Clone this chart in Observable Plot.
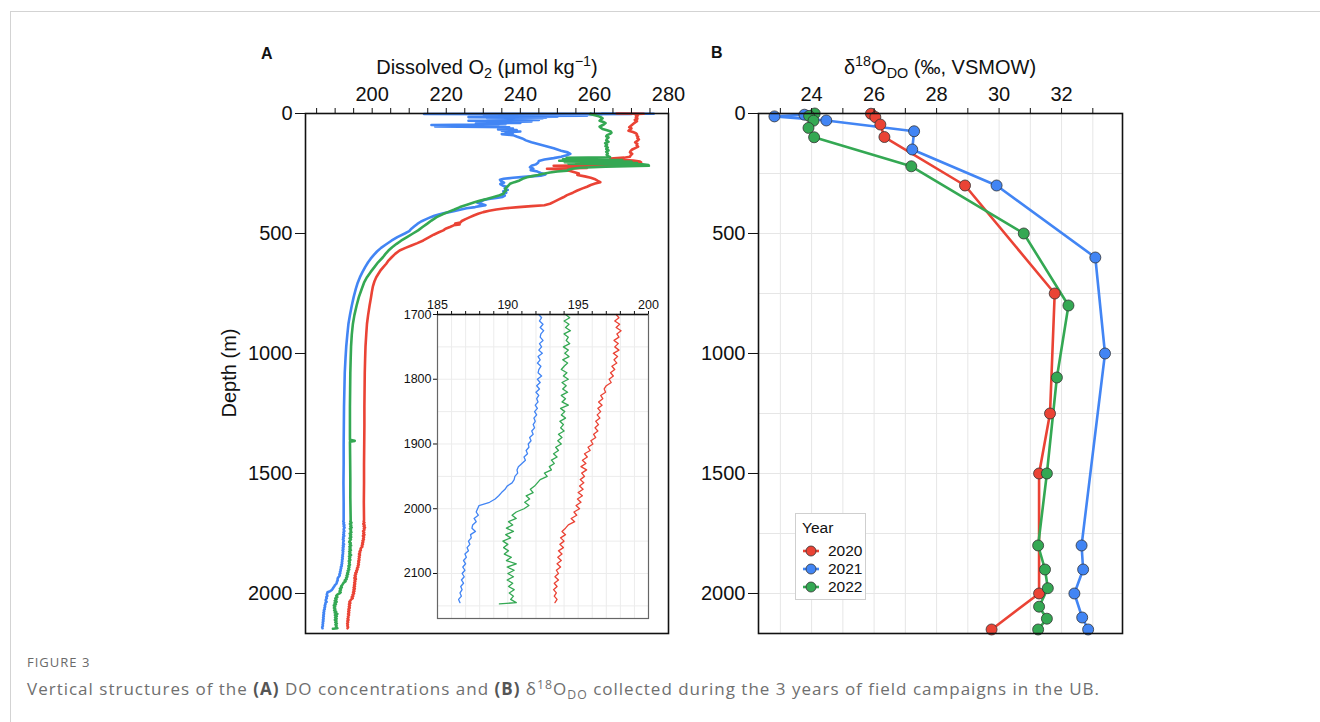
<!DOCTYPE html>
<html><head><meta charset="utf-8">
<script src="https://cdn.jsdelivr.net/npm/d3@7"></script>
<script src="https://cdn.jsdelivr.net/npm/@observablehq/plot@0.6"></script>
<style>
body{margin:0;background:#fff;font-family:"Liberation Sans",Arial,sans-serif;}
#page{position:relative;width:1320px;height:722px;overflow:hidden;background:#fff;}
#border{position:absolute;left:10px;top:11px;width:1400px;height:800px;border-left:1px solid #d3d3d3;border-top:1px solid #d3d3d3;}
.abs{position:absolute;}
.ttl{position:absolute;font-size:20px;line-height:1;white-space:nowrap;transform:translateX(-50%);color:#111;}
.ttl sub{font-size:0.72em;vertical-align:-0.3em;line-height:0;}
.ttl sup{font-size:0.72em;vertical-align:0.55em;line-height:0;}
.lab{position:absolute;font-weight:bold;font-size:16px;color:#111;line-height:1;}
#legend{position:absolute;left:795px;top:513px;width:69px;height:85px;border:1px solid #cfcfcf;background:#fff;font-size:15.5px;color:#111;}
#legend .row{position:absolute;left:6px;height:18px;display:flex;align-items:center;}
#legend .row span{margin-left:8px;}
#fig{position:absolute;left:27px;top:653px;font-family:"Open Sans",sans-serif;font-size:13px;color:#6a6a6a;letter-spacing:1px;}
#cap{position:absolute;left:27px;top:677px;font-family:"Open Sans",sans-serif;font-size:17px;letter-spacing:1px;color:#6f6f6f;white-space:nowrap;}
#cap b{color:#555;}
#cap sub{font-size:0.72em;vertical-align:-0.3em;line-height:0;}
#cap sup{font-size:0.72em;vertical-align:0.5em;line-height:0;}
</style></head>
<body>
<div id="page">
  <div id="border"></div>
  <div class="lab" style="left:261px;top:46px;">A</div>
  <div class="ttl" style="left:487px;top:57px;">Dissolved O<sub>2</sub> (μmol kg<sup>−1</sup>)</div>
  <div class="lab" style="left:711px;top:45px;">B</div>
  <div class="ttl" style="left:940px;top:57px;">δ<sup>18</sup>O<sub>DO</sub> (‰, VSMOW)</div>
  <div class="abs" style="left:229px;top:373px;font-size:20px;white-space:nowrap;transform:translate(-50%,-50%) rotate(-90deg);color:#111;">Depth (m)</div>
  <div id="panelA" class="abs" style="left:200px;top:80px;"></div>
  <div id="inset" class="abs" style="left:395px;top:290px;"></div>
  <div id="panelB" class="abs" style="left:655px;top:80px;"></div>
  <div id="legend"></div>
  <div id="fig">FIGURE 3</div>
  <div id="cap">Vertical structures of the <b>(A)</b> DO concentrations and <b>(B)</b> δ<sup>18</sup>O<sub>DO</sub> collected during the 3 years of field campaigns in the UB.</div>
</div>
<script>
// ---------- categories ----------
const years = ["2020", "2021", "2022"];
const yearColors = ["#EA4335", "#4285F4", "#34A853"];
const drawOrder = ["2021", "2020", "2022"];

// ---------- ticks ----------
const depthTicks = [0, 500, 1000, 1500, 2000];
const o2Ticks = [185,190,195,200,205,210,215,220,225,230,235,240,245,250,255,260,265,270,275,280];
const o2Labels = [200, 220, 240, 260, 280];
const insetXTicks = [185,186,187,188,189,190,191,192,193,194,195,196,197,198,199,200];
const insetXLabels = [185, 190, 195, 200];
const insetYTicks = [1700, 1800, 1900, 2000, 2100];
const insetYGrid = [1750,1800,1850,1900,1950,2000,2050,2100,2150];
const d18Ticks = [23,24,25,26,27,28,29,30,31,32,33];
const d18Labels = [24, 26, 28, 30, 32];
const d18GridY = [250, 500, 750, 1000, 1250, 1500, 1750, 2000];

// ---------- Panel A: dissolved O2 profiles [depth m, O2 umol/kg] ----------
const o2_2021_upper = [[0,262],[1,276],[2,214],[3,270],[4,230],[5,262],[7,248],[9,258],[11,232],[13,250],[15,226],[17,247],[19,231],[21,246],[24,233],[27,245],[30,226],[33,243],[36,232],[39,240],[42,228],[45,236],[48,216],[51,234],[54,217],[57,237],[60,235],[63,238],[66,234],[69,239],[72,235],[75,240],[78,236],[82,238],[86,235],[90,238],[96,239],[104,240.5],[112,241.5],[120,243],[128,245],[136,247],[145,249],[155,251],[162,252.8],[168,253.5],[174,252.5],[180,251],[186,249],[192,246.5],[198,245],[205,244.8],[212,244.2],[218,243],[224,242.6],[230,243.5],[236,242.8],[242,244.6],[248,245.5],[254,246.8],[259,245.5],[264,241],[268,238],[272,235.5],[276,234.5],[282,234.8],[288,235.6],[294,234.6],[300,235.2],[306,236.4],[312,235.8],[318,236.6],[324,235.4],[330,236.2],[336,235],[342,235.8],[348,235.2],[352,233.5],[356,231.5],[360,230.2],[366,229.5],[372,228.4],[378,229.8],[382,230.6],[386,229],[390,227.8],[395,225.5],[400,224],[407,222],[414,219.8],[420,218.2],[426,216.8],[432,215.8],[440,214.6],[450,213.2],[460,212.2],[470,211.4],[480,210.6],[490,210],[500,208.8],[515,206.8],[530,205.2],[545,203.8],[560,202.4],[575,201.3],[590,200.4],[605,199.6],[620,198.9],[640,198.1],[660,197.4],[682,196.7],[705,196.1],[730,195.6],[765,195],[800,194.5],[840,194],[876,193.6],[920,193.3],[970,193],[1020,192.8],[1080,192.6],[1150,192.5],[1220,192.4],[1300,192.35],[1380,192.3],[1460,192.3],[1540,192.25],[1620,192.3],[1695,192.3]];
const o2_2021_deep = [[1700,192.2],[1705,192.4],[1710,192.25],[1715,192.5],[1720,192.3],[1725,192.55],[1730,192.35],[1735,192.3],[1740,192.5],[1745,192.25],[1750,192.4],[1755,192.2],[1760,192.45],[1765,192.15],[1770,192.3],[1775,192.1],[1780,192.35],[1785,192.2],[1790,192.15],[1795,192.4],[1800,192.1],[1805,192.3],[1810,192.05],[1815,192.25],[1820,192.0],[1825,192.2],[1830,192.05],[1835,192.15],[1840,191.95],[1845,192.1],[1850,191.9],[1855,192.05],[1860,191.85],[1865,191.95],[1870,191.8],[1875,191.9],[1880,191.7],[1885,191.8],[1890,191.55],[1895,191.65],[1900,191.45],[1905,191.5],[1910,191.3],[1915,191.4],[1920,191.15],[1925,191.25],[1930,191.0],[1935,190.75],[1940,190.65],[1945,190.7],[1950,190.5],[1955,190.45],[1960,190.3],[1965,189.95],[1970,189.8],[1975,189.55],[1980,189.35],[1985,189.1],[1990,188.7],[1995,187.95],[2000,187.85],[2005,187.75],[2010,187.9],[2015,187.6],[2020,187.75],[2025,187.5],[2030,187.45],[2035,187.7],[2040,187.35],[2045,187.4],[2050,187.2],[2055,187.3],[2060,187.1],[2065,187.2],[2070,186.95],[2075,187.05],[2080,186.85],[2085,187.0],[2090,186.8],[2095,186.95],[2100,186.75],[2105,186.9],[2110,186.7],[2115,186.85],[2120,186.65],[2125,186.75],[2130,186.6],[2135,186.7],[2140,186.5],[2145,186.6]];

const o2_2022_upper = [[0,259],[2,258.8],[5,259.6],[8,260.4],[12,261.2],[16,261.8],[20,262.2],[25,261.8],[30,261.4],[35,262.4],[40,263],[45,262.6],[50,262],[55,261.4],[60,261.8],[65,262.2],[70,263.4],[75,264.4],[80,264.6],[85,264.2],[90,263.4],[95,263.2],[100,263.8],[106,263.4],[112,263.2],[118,263.8],[124,262.9],[130,263.4],[136,263],[142,263.6],[148,263.2],[154,263.8],[160,263.2],[166,263.6],[172,263.3],[178,263.8],[182,264.2],[185,252.5],[188,262.5],[191,251.5],[194,267.5],[197,250.5],[200,270],[203,252],[206,271.5],[209,253],[212,273],[215,274.6],[218,274.7],[222,263],[226,256],[230,254],[234,253],[238,252.6],[242,250],[246,248],[251,246.2],[256,244.8],[261,243.2],[266,241.8],[272,240.6],[279,239.8],[286,238.4],[293,237.2],[300,236.8],[307,236.3],[314,235.9],[321,236.2],[328,235.6],[335,235.4],[342,234.2],[349,232.6],[356,230.9],[363,229.2],[370,227.6],[380,225.6],[390,223.7],[400,222.2],[410,220.6],[420,219],[432,217.4],[446,216],[460,214.8],[473,213.6],[487,212.4],[500,211],[515,209.4],[530,207.8],[543,206.6],[557,205.4],[571,204.4],[585,203.6],[599,202.9],[620,201.6],[640,200.6],[660,199.6],[682,198.6],[705,197.8],[730,197.2],[765,196.4],[800,195.8],[840,195.2],[876,194.8],[920,194.5],[970,194.3],[1020,194.2],[1080,194.1],[1150,194.05],[1220,194],[1300,194],[1360,194],[1364,195.3],[1368,194],[1440,194.05],[1520,194.1],[1600,194.1],[1695,194.2]];
const o2_2022_deep = [[1700,194.1],[1705,194.4],[1710,194.0],[1715,194.35],[1720,194.1],[1725,194.45],[1730,194.0],[1735,194.3],[1740,194.15],[1745,194.4],[1750,193.95],[1755,194.3],[1760,194.05],[1765,194.35],[1770,193.9],[1775,194.25],[1780,194.0],[1785,193.8],[1790,194.2],[1795,193.95],[1800,194.3],[1805,193.85],[1810,194.15],[1815,193.9],[1820,194.25],[1825,193.8],[1830,194.1],[1835,193.85],[1840,194.3],[1845,193.75],[1850,194.05],[1855,193.8],[1860,194.1],[1865,193.7],[1870,193.95],[1875,193.75],[1880,194.0],[1885,193.6],[1890,193.85],[1895,193.55],[1900,193.8],[1905,193.4],[1910,193.6],[1915,193.25],[1920,193.5],[1925,193.1],[1930,193.3],[1935,192.95],[1940,193.1],[1945,192.6],[1950,192.8],[1955,192.3],[1960,192.1],[1965,191.9],[1970,191.6],[1975,191.8],[1980,191.3],[1985,191.55],[1990,191.2],[1995,191.5],[2000,191.15],[2005,190.6],[2010,190.3],[2015,190.6],[2020,190.05],[2025,190.35],[2030,189.9],[2035,190.4],[2040,189.85],[2045,190.2],[2050,189.65],[2055,190.0],[2060,189.7],[2065,190.05],[2070,189.75],[2075,190.25],[2080,189.9],[2085,190.6],[2090,189.95],[2095,190.45],[2100,190.0],[2105,190.4],[2110,189.95],[2115,190.35],[2120,190.05],[2125,190.45],[2130,190.1],[2135,190.4],[2140,190.2],[2145,190.6],[2147,189.4]];

const o2_2020_upper = [[0,266],[1,273.3],[2,271.5],[5,271.8],[9,271.2],[13,271.6],[17,271.2],[22,271.6],[27,270.9],[32,271.5],[37,271],[42,270.6],[47,270.2],[52,269.8],[57,269.4],[62,270],[67,269.6],[72,269.2],[77,270.4],[82,271.2],[87,271.5],[92,271.4],[97,271.8],[102,271.6],[108,272],[114,271.6],[120,271],[126,271.6],[132,271.4],[138,271.8],[144,271],[150,270.2],[156,269.8],[162,269.6],[168,270.2],[174,269.8],[180,269.6],[184,268],[188,264.3],[192,266],[196,270.5],[200,272.3],[203,272.6],[206,262],[209,268],[212,255],[215,265],[218,249],[221,262],[224,252],[227,258],[230,247.2],[234,251],[238,253],[244,254.4],[250,255.8],[256,255.4],[262,257.4],[268,259],[274,260.2],[280,260.8],[286,261.6],[292,260.2],[298,259],[305,258],[312,256.8],[321,255.4],[330,254.2],[340,252.6],[349,251.6],[358,250.4],[367,249.2],[376,248],[382,246.5],[386,243],[390,239.5],[395,236],[400,233.5],[405,231.6],[411,230],[418,228.6],[425,227.4],[432,226.4],[440,225.2],[448,224.2],[454,223.8],[458,222.4],[462,223.6],[466,222],[473,221],[480,219.8],[487,219.2],[495,218],[505,216.6],[515,215.4],[529,213.8],[540,212.2],[550,210.6],[560,209],[571,207.4],[585,206.2],[600,205.2],[613,204.4],[626,203.8],[640,203],[655,202.2],[670,201.6],[682,201.1],[700,200.6],[720,200.2],[745,199.9],[765,199.7],[800,199.3],[840,198.9],[876,198.6],[920,198.4],[970,198.2],[1020,198.1],[1080,198],[1150,197.95],[1220,197.9],[1300,197.9],[1380,197.85],[1460,197.8],[1540,197.8],[1620,197.75],[1695,197.8]];
const o2_2020_deep = [[1700,197.7],[1705,197.9],[1710,197.6],[1715,197.95],[1720,197.7],[1725,198.05],[1730,197.75],[1735,197.9],[1740,197.55],[1745,197.85],[1750,197.6],[1755,197.9],[1760,197.5],[1765,197.8],[1770,197.55],[1775,197.75],[1780,197.4],[1785,197.6],[1790,197.3],[1795,197.5],[1800,197.2],[1805,197.35],[1810,197.0],[1815,196.85],[1820,196.95],[1825,196.6],[1830,196.75],[1835,196.45],[1840,196.7],[1845,196.4],[1850,196.6],[1855,196.35],[1860,196.55],[1865,196.25],[1870,196.45],[1875,196.2],[1880,196.4],[1885,196.1],[1890,196.25],[1895,195.9],[1900,196.05],[1905,195.7],[1910,195.85],[1915,195.45],[1920,195.65],[1925,195.3],[1930,195.55],[1935,195.2],[1940,195.6],[1945,195.25],[1950,195.45],[1955,195.15],[1960,195.4],[1965,195.1],[1970,195.35],[1975,195.0],[1980,195.3],[1985,194.95],[1990,195.2],[1995,194.85],[2000,195.1],[2005,194.7],[2010,194.9],[2015,194.5],[2020,194.75],[2025,194.3],[2030,194.1],[2035,193.85],[2040,194.1],[2045,193.75],[2050,194.0],[2055,193.7],[2060,193.95],[2065,193.6],[2070,193.85],[2075,193.55],[2080,193.8],[2085,193.5],[2090,193.75],[2095,193.45],[2100,193.6],[2105,193.35],[2110,193.6],[2115,193.3],[2120,193.5],[2125,193.25],[2130,193.45],[2135,193.3],[2140,193.5],[2145,193.35]];

// ---------- Panel B: d18O of dissolved O2 [depth m, permil] ----------
const d18_2020 = [[1,25.9],[15,26.04],[46,26.2],[98,26.33],[300,28.91],[750,31.78],[1250,31.63],[1500,31.28],[2000,31.28],[2150,29.76]];
const d18_2021 = [[5,23.77],[12,22.81],[29,24.47],[74,27.28],[150,27.22],[300,29.92],[600,33.08],[1000,33.39],[1800,32.64],[1900,32.69],[2000,32.41],[2100,32.66],[2150,32.85]];
const d18_2022 = [[0,24.1],[10,23.92],[30,24.06],[60,23.9],[99,24.08],[220,27.19],[500,30.79],[800,32.22],[1100,31.85],[1500,31.53],[1800,31.25],[1900,31.47],[1978,31.56],[2055,31.28],[2105,31.53],[2150,31.25]];

// ---------- build tables ----------
const o2Sets = {"2020": [...o2_2020_upper, ...o2_2020_deep], "2021": [...o2_2021_upper, ...o2_2021_deep], "2022": [...o2_2022_upper, ...o2_2022_deep]};
const deepSets = {"2020": o2_2020_deep, "2021": o2_2021_deep, "2022": o2_2022_deep};
const d18Sets = {"2020": d18_2020, "2021": d18_2021, "2022": d18_2022};
const rowsA = drawOrder.flatMap(y => o2Sets[y].map(([d, v]) => ({year: y, depth: d, o2: v})));
const rowsInset = drawOrder.flatMap(y => deepSets[y].map(([d, v]) => ({year: y, depth: d, o2: v})));
const rowsB = drawOrder.flatMap(y => d18Sets[y].map(([d, v]) => ({year: y, depth: d, d18: v})));

const FONT = '"Liberation Sans", Arial, sans-serif';
const color = {domain: years, range: yearColors};
const plain = d => String(d);

const panelA = Plot.plot({
  width: 480, height: 570, marginLeft: 105, marginRight: 12, marginTop: 33, marginBottom: 17,
  style: {fontFamily: FONT, fontSize: "20px", color: "#111", background: "transparent", overflow: "visible"},
  x: {domain: [182, 280]},
  y: {domain: [0, 2166.7], reverse: true},
  color,
  marks: [
    Plot.line(rowsA, {x: "o2", y: "depth", z: "year", stroke: "year", strokeWidth: 2.6, strokeLinejoin: "round"}),
    Plot.axisX({anchor: "top", ticks: o2Ticks, tickFormat: d => o2Labels.includes(d) ? String(d) : "", tickSize: 6, tickPadding: 7, fontSize: 20, label: null}),
    Plot.axisY({anchor: "left", ticks: depthTicks, tickFormat: plain, tickSize: 10, tickPadding: 3, fontSize: 20, label: null}),
    Plot.frame({stroke: "#111", strokeWidth: 1.6})
  ]
});
document.getElementById("panelA").appendChild(panelA);

const inset = Plot.plot({
  width: 265, height: 332, marginLeft: 42, marginRight: 12, marginTop: 24, marginBottom: 4,
  style: {fontFamily: FONT, fontSize: "12.5px", color: "#111", background: "transparent", overflow: "visible"},
  x: {domain: [185, 200]},
  y: {domain: [1700, 2169.5], reverse: true},
  color,
  marks: [
    Plot.frame({fill: "#fff", stroke: null}),
    Plot.gridX({ticks: insetXTicks, stroke: "#ececec", strokeOpacity: 1}),
    Plot.gridY({ticks: insetYGrid, stroke: "#ececec", strokeOpacity: 1}),
    Plot.line(rowsInset, {x: "o2", y: "depth", z: "year", stroke: "year", strokeWidth: 1.3, strokeLinejoin: "round"}),
    Plot.axisX({anchor: "top", ticks: insetXTicks, tickFormat: d => insetXLabels.includes(d) ? String(d) : "", tickSize: 4, tickPadding: 2, fontSize: 12.5, label: null}),
    Plot.axisY({anchor: "left", ticks: insetYTicks, tickFormat: plain, tickSize: 4, tickPadding: 2, fontSize: 12.5, label: null}),
    Plot.frame({stroke: "#666", strokeWidth: 1.2}),
    Plot.ruleY([1700], {stroke: "#111", strokeWidth: 1.5})
  ]
});
document.getElementById("inset").appendChild(inset);

const panelB = Plot.plot({
  width: 480, height: 570, marginLeft: 103, marginRight: 13, marginTop: 33, marginBottom: 17,
  style: {fontFamily: FONT, fontSize: "20px", color: "#111", background: "transparent", overflow: "visible"},
  x: {domain: [22.3, 33.95]},
  y: {domain: [0, 2166.7], reverse: true},
  color,
  marks: [
    Plot.gridX({ticks: d18Ticks, stroke: "#e6e6e6", strokeOpacity: 1}),
    Plot.gridY({ticks: d18GridY, stroke: "#e6e6e6", strokeOpacity: 1}),
    Plot.line(rowsB, {x: "d18", y: "depth", z: "year", stroke: "year", strokeWidth: 2.6, strokeLinejoin: "round"}),
    Plot.dot(rowsB, {x: "d18", y: "depth", fill: "year", stroke: "#333", strokeWidth: 0.8, r: 5.5}),
    Plot.axisX({anchor: "top", ticks: d18Ticks, tickFormat: d => d18Labels.includes(d) ? String(d) : "", tickSize: 6, tickPadding: 7, fontSize: 20, label: null}),
    Plot.axisY({anchor: "left", ticks: depthTicks, tickFormat: plain, tickSize: 10, tickPadding: 3, fontSize: 20, label: null}),
    Plot.frame({stroke: "#111", strokeWidth: 1.6})
  ]
});
document.getElementById("panelB").appendChild(panelB);

// ---------- legend ----------
const legend = document.getElementById("legend");
legend.innerHTML = '<div style="position:absolute;left:6px;top:5px;">Year</div>' +
  years.map((y, i) => `<div class="row" style="top:${28 + i * 18}px"><svg width="18" height="14"><line x1="1" x2="17" y1="7" y2="7" stroke="${yearColors[i]}" stroke-width="2.6"/><circle cx="9" cy="7" r="5" fill="${yearColors[i]}" stroke="#333" stroke-width="0.8"/></svg><span>${y}</span></div>`).join("");
</script>
</body></html>
